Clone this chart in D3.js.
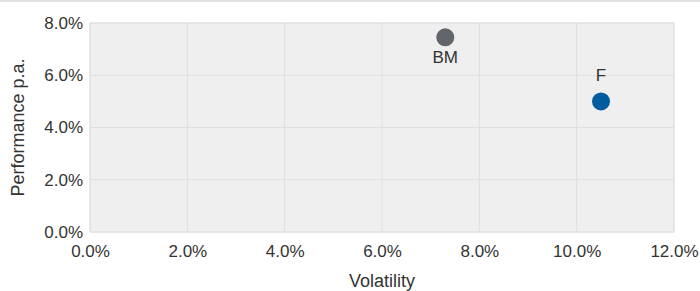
<!DOCTYPE html>
<html>
<head>
<meta charset="utf-8">
<script src="https://cdn.jsdelivr.net/npm/d3@7"></script>
<style>
  body { margin: 0; background: #fff; }
  text { font-family: "Liberation Sans", Arial, sans-serif; fill: #333; }
</style>
</head>
<body>
<svg width="700" height="291"></svg>
<script>
// data
let names = ["BM", "F"];
let volatility = [7.3, 10.5];
let performance = [7.45, 5.0];
let colors = ["#626569", "#005b9f"];
let xTicks = [0, 2, 4, 6, 8, 10, 12];
let yTicks = [0, 2, 4, 6, 8];

let svg = d3.select("svg");
let margin = {left: 90, right: 26, top: 23, bottom: 59};
let w = 700 - margin.left - margin.right;
let h = 291 - margin.top - margin.bottom;

// ligne grise en haut
svg.append("rect")
    .attr("x", 0).attr("y", 0)
    .attr("width", 700).attr("height", 2)
    .attr("fill", "#e2e2e2");

let x = d3.scaleLinear().domain([0, 12]).range([margin.left, margin.left + w]);
let y = d3.scaleLinear().domain([0, 8]).range([margin.top + h, margin.top]);

// fond du graphique
svg.append("rect")
    .attr("x", x(0)).attr("y", y(8))
    .attr("width", x(12) - x(0)).attr("height", y(0) - y(8))
    .attr("fill", "#efefef")
    .attr("stroke", "#e4e4e4");

// grille
svg.append("g")
    .selectAll("line.gx")
    .data(xTicks)
    .join("line")
    .attr("x1", d => x(d)).attr("x2", d => x(d))
    .attr("y1", y(0)).attr("y2", y(8))
    .attr("stroke", "#dedede");

svg.append("g")
    .selectAll("line.gy")
    .data(yTicks)
    .join("line")
    .attr("x1", x(0)).attr("x2", x(12))
    .attr("y1", d => y(d)).attr("y2", d => y(d))
    .attr("stroke", "#dedede");

// axes
let xAxis = svg.append("g")
    .attr("transform", `translate(0,${y(0)})`)
    .call(d3.axisBottom(x).tickValues(xTicks).tickFormat(d => d.toFixed(1) + "%").tickSize(0).tickPadding(13));
xAxis.select(".domain").remove();
xAxis.selectAll("text").style("font-size", "17px").attr("fill", "#333");

let yAxis = svg.append("g")
    .attr("transform", `translate(${x(0)},0)`)
    .call(d3.axisLeft(y).tickValues(yTicks).tickFormat(d => d.toFixed(1) + "%").tickSize(0).tickPadding(7));
yAxis.select(".domain").remove();
yAxis.selectAll("text").style("font-size", "17px").attr("fill", "#333");

// titres des axes
svg.append("text")
    .attr("x", (x(0) + x(12)) / 2)
    .attr("y", 287)
    .attr("text-anchor", "middle")
    .style("font-size", "18px")
    .text("Volatility");

svg.append("text")
    .attr("transform", `translate(24,${(y(0) + y(8)) / 2}) rotate(-90)`)
    .attr("text-anchor", "middle")
    .style("font-size", "18px")
    .text("Performance p.a.");

// points
let pts = names.map((n, i) => ({name: n, vol: volatility[i], perf: performance[i], color: colors[i]}));

svg.selectAll("circle.pt")
    .data(pts)
    .join("circle")
    .attr("class", "pt")
    .attr("cx", d => x(d.vol))
    .attr("cy", d => y(d.perf))
    .attr("r", 9)
    .attr("fill", d => d.color);

// étiquettes : BM en dessous, F au-dessus
svg.selectAll("text.lbl")
    .data(pts)
    .join("text")
    .attr("class", "lbl")
    .attr("x", d => x(d.vol))
    .attr("y", d => d.name == "BM" ? y(d.perf) + 26 : y(d.perf) - 20)
    .attr("text-anchor", "middle")
    .style("font-size", "17px")
    .text(d => d.name);
</script>
</body>
</html>
